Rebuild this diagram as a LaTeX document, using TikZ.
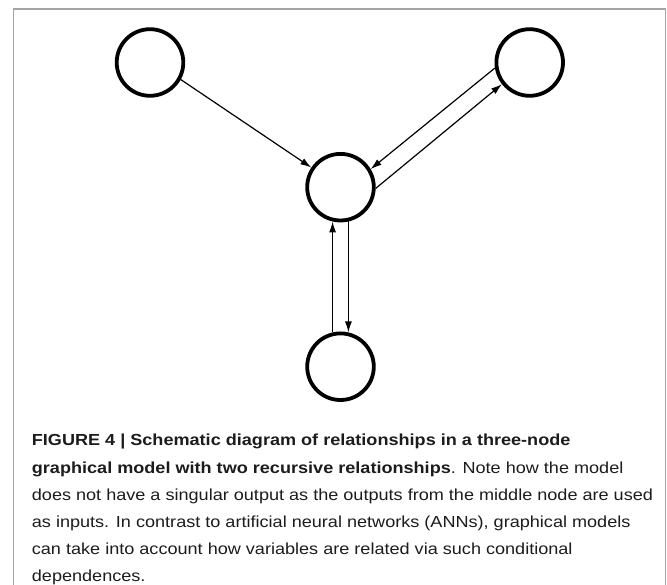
\documentclass[tikz,border=0pt]{standalone}
\usepackage{fontspec}
\setmainfont{Liberation Sans}[FakeStretch=1.13]
\usetikzlibrary{arrows.meta}
\definecolor{framegray}{HTML}{A4A4A4}
\definecolor{inkblack}{HTML}{1C1C1C}
\begin{document}
\begin{tikzpicture}[x=1pt,y=-1pt,
  varnode/.style={circle,draw=black,line width=3.8pt,minimum size=66.6pt,inner sep=0pt},
  link/.style={line width=1.2pt,-{Latex[length=11pt,width=7pt]}},
  capline/.style={anchor=base west,inner sep=0pt,text=inkblack,
    font=\fontsize{16}{27}\selectfont}]
  \useasboundingbox (0,0) rectangle (667,585);
  % open frame around figure and caption
  \draw[framegray,line width=1.3pt] (13.5,585) -- (13.5,9) -- (665.5,9) -- (665.5,585);

  % the three-node graphical model
  \node[varnode] (left)   at (150,62.5) {};
  \node[varnode] (right)  at (529.7,62.5) {};
  \node[varnode] (middle) at (340.5,187.2) {};
  \node[varnode] (bottom) at (340.5,366.7) {};

  \draw[link] (left.331) -- (middle.146.4);
  \draw[link] (right.189.5) -- (middle.31.5);
  \draw[link] (middle.358) -- (right.218);
  \draw[link] (bottom.103) -- (middle.257);
  \draw[link] (middle.283) -- (bottom.77);

  % caption
  \node[capline] (c1) at (31.7,446) {\textbf{FIGURE 4 | Schematic diagram of relationships in a three-node}};
  \node[capline] (c2) at (31.7,473) {\textbf{graphical model with two recursive relationships}. Note how the model};
  \node[capline] (c3) at (31.7,500) {does not have a singular output as the outputs from the middle node are used};
  \node[capline] (c4) at (31.7,527) {as inputs. In contrast to artificial neural networks (ANNs), graphical models};
  \node[capline] (c5) at (31.7,554) {can take into account how variables are related via such conditional};
  \node[capline] (c6) at (31.7,581) {dependences.};
\end{tikzpicture}
\end{document}
